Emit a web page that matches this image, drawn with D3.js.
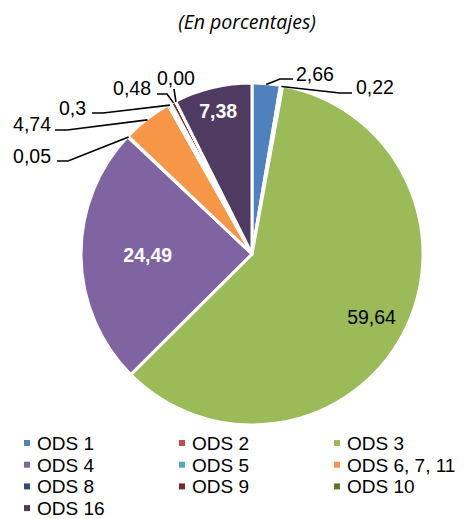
<!DOCTYPE html>
<html>
<head>
<meta charset="utf-8">
<script src="https://cdn.jsdelivr.net/npm/d3@7/dist/d3.min.js"></script>
<style>
  html, body { margin: 0; padding: 0; background: #fff; }
  svg { display: block; }
</style>
</head>
<body>
<svg id="chart" width="464" height="519"></svg>
<script>
// Shares by ODS goal, percentages
const categories = ["ODS 1", "ODS 2", "ODS 3", "ODS 4", "ODS 5", "ODS 6, 7, 11", "ODS 8", "ODS 9", "ODS 10", "ODS 16"];
const values = [2.66, 0.22, 59.64, 24.49, 0.05, 4.74, 0.3, 0.48, 0.00, 7.38];
const valueLabels = ["2,66", "0,22", "59,64", "24,49", "0,05", "4,74", "0,3", "0,48", "0,00", "7,38"];
const colors = ["#4F81BD", "#C0504D", "#9BBB59", "#8064A2", "#4BACC6", "#F79646", "#2C4D75", "#772C2A", "#5F7530", "#4F3B62"];
const title = "(En porcentajes)";

// Label placement: inside labels sit on the slice bisector at a fraction of the radius;
// outside labels have a text anchor plus a bent leader line back to the slice edge.
const insideLabels = {
  "ODS 3":  { k: 0.79, color: "#000", weight: "normal" },
  "ODS 4":  { k: 0.61, color: "#fff", weight: "bold" },
  "ODS 16": { k: 0.86, color: "#fff", weight: "bold" }
};
const outsideLabels = {
  "ODS 1":        { tx: 296, ty: 81,  anchor: "start", path: [[280, 79], [293, 79]] },
  "ODS 2":        { tx: 356, ty: 94,  anchor: "start", path: [[340, 93], [352, 93]] },
  "ODS 10":       { tx: 176, ty: 85,  anchor: "middle", path: [[174, 89]] },
  "ODS 9":        { tx: 151, ty: 95,  anchor: "end", path: [[167, 94], [157, 94]] },
  "ODS 8":        { tx: 86,  ty: 115, anchor: "end", path: [[103, 113], [92, 113]] },
  "ODS 6, 7, 11": { tx: 51,  ty: 131, anchor: "end", path: [[67, 130], [55, 130]] },
  "ODS 5":        { tx: 51,  ty: 163, anchor: "end", path: [[68, 161], [57, 161]] }
};

const svg = d3.select("#chart");
const cx = 252, cy = 254, r = 171;
const labelFont = "Liberation Sans, Arial, sans-serif";

svg.append("text")
  .attr("x", 247).attr("y", 29)
  .attr("text-anchor", "middle")
  .attr("font-family", "Open Sans, sans-serif")
  .attr("font-style", "italic")
  .attr("font-size", 19.5)
  .attr("fill", "#000")
  .text(title);

const data = categories.map((c, i) => ({ cat: c, value: values[i], label: valueLabels[i], color: colors[i] }));

const pie = d3.pie().sort(null).value(d => d.value);
const arcs = pie(data);
const arc = d3.arc().innerRadius(0).outerRadius(r);

const g = svg.append("g").attr("transform", `translate(${cx},${cy})`);

g.selectAll("path.slice")
  .data(arcs)
  .join("path")
  .attr("class", "slice")
  .attr("d", arc)
  .attr("fill", d => d.data.color)
  .attr("stroke", "#fff")
  .attr("stroke-width", 3)
  .attr("stroke-linejoin", "round");

const mid = d => (d.startAngle + d.endAngle) / 2;
const polar = (a, rad) => [cx + Math.sin(a) * rad, cy - Math.cos(a) * rad];

// Inside labels
arcs.filter(d => insideLabels[d.data.cat]).forEach(d => {
  const s = insideLabels[d.data.cat];
  const [x, y] = polar(mid(d), r * s.k);
  svg.append("text")
    .attr("x", x).attr("y", y)
    .attr("dy", "0.36em")
    .attr("text-anchor", "middle")
    .attr("font-family", labelFont)
    .attr("font-size", 19.5)
    .attr("font-weight", s.weight)
    .attr("fill", s.color)
    .text(d.data.label);
});

// Outside labels with leader lines
const line = d3.line();
arcs.filter(d => outsideLabels[d.data.cat]).forEach(d => {
  const s = outsideLabels[d.data.cat];
  const start = polar(mid(d), r - 1);
  svg.append("path")
    .attr("d", line([start, ...s.path]))
    .attr("fill", "none")
    .attr("stroke", "#000")
    .attr("stroke-width", 1.6);
  svg.append("text")
    .attr("x", s.tx).attr("y", s.ty)
    .attr("text-anchor", s.anchor)
    .attr("font-family", labelFont)
    .attr("font-size", 19.5)
    .attr("fill", "#000")
    .text(d.data.label);
});

// Legend: three columns, filled row by row
const legendCols = [27, 182, 337];
const legendRow0 = 443, legendRowStep = 21.7;
const legend = svg.append("g");
data.forEach((d, i) => {
  const col = i % 3, row = Math.floor(i / 3);
  const x = legendCols[col], y = legendRow0 + row * legendRowStep;
  legend.append("rect")
    .attr("x", x - 3).attr("y", y - 3)
    .attr("width", 6).attr("height", 6)
    .attr("fill", d.color);
  legend.append("text")
    .attr("x", x + 10).attr("y", y)
    .attr("dy", "0.36em")
    .attr("font-family", labelFont)
    .attr("font-size", 19)
    .attr("fill", "#000")
    .text(d.cat);
});
</script>
</body>
</html>
